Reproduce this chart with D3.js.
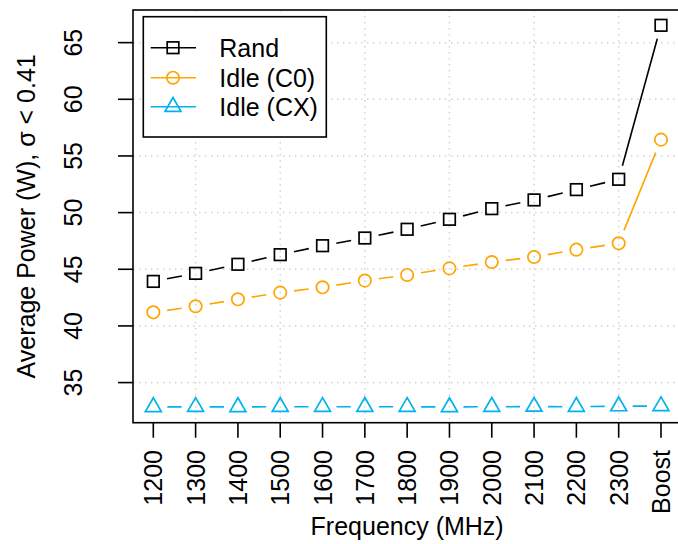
<!DOCTYPE html>
<html>
<head>
<meta charset="utf-8">
<script src="https://cdn.jsdelivr.net/npm/d3@7"></script>
<style>
  html, body { margin: 0; padding: 0; background: #fff; }
  svg { display: block; }
  text { font-family: "Liberation Sans", Arial, sans-serif; fill: #000; }
</style>
</head>
<body>
<svg id="chart" width="678" height="544"></svg>
<script>
// ---- data ----
const categories = ["1200","1300","1400","1500","1600","1700","1800","1900","2000","2100","2200","2300","Boost"];
const randValues = [43.93, 44.64, 45.44, 46.29, 47.08, 47.76, 48.53, 49.41, 50.35, 51.12, 52.03, 52.94, 66.53];
const idleC0Values = [41.20, 41.73, 42.35, 42.94, 43.41, 44.00, 44.50, 45.08, 45.64, 46.08, 46.73, 47.29, 56.44];
const idleCXValues = [32.85, 32.86, 32.85, 32.87, 32.86, 32.87, 32.86, 32.85, 32.87, 32.88, 32.87, 32.92, 32.93];
const yTicks = [35, 40, 45, 50, 55, 60, 65];
const xGridIdx = [2, 4, 6, 8, 10, 12];
const seriesNames = ["Rand", "Idle (C0)", "Idle (CX)"];

const series = [
  { name: seriesNames[0], values: randValues, color: "#000000", shape: "square" },
  { name: seriesNames[1], values: idleC0Values, color: "#FFA500", shape: "circle" },
  { name: seriesNames[2], values: idleCXValues, color: "#00B2EE", shape: "triangle" }
];

const FS = 25;
const svg = d3.select("#chart");
const L = 133, R = 681.3, T = 10, B = 422.7;

const x = d3.scaleLinear().domain([0.52, 13.48]).range([L, R]);
const y = d3.scaleLinear().domain([31.46, 67.88]).range([B, T]);

// grid
const grid = svg.append("g");
grid.selectAll("line.h").data(yTicks).enter().append("line")
  .attr("x1", L).attr("x2", R).attr("y1", d => y(d)).attr("y2", d => y(d))
  .attr("stroke", "#D3D3D3").attr("stroke-width", 1.5).attr("stroke-dasharray", "1.5,4.5");
grid.selectAll("line.v").data(xGridIdx).enter().append("line")
  .attr("y1", T).attr("y2", B).attr("x1", d => x(d)).attr("x2", d => x(d))
  .attr("stroke", "#D3D3D3").attr("stroke-width", 1.5).attr("stroke-dasharray", "1.5,4.5");

// symbol drawing
function drawSymbol(g, shape, cx, cy, color) {
  if (shape === "square") {
    g.append("rect").attr("x", cx - 5.8).attr("y", cy - 5.8).attr("width", 11.6).attr("height", 11.6)
      .attr("fill", "none").attr("stroke", color).attr("stroke-width", 1.7);
  } else if (shape === "circle") {
    g.append("circle").attr("cx", cx).attr("cy", cy).attr("r", 6.2)
      .attr("fill", "none").attr("stroke", color).attr("stroke-width", 1.7);
  } else {
    const r = 9.2;
    const pts = [[cx, cy - r], [cx + r * Math.sqrt(3) / 2, cy + r / 2], [cx - r * Math.sqrt(3) / 2, cy + r / 2]];
    g.append("polygon").attr("points", pts.map(p => p.join(",")).join(" "))
      .attr("fill", "none").attr("stroke", color).attr("stroke-width", 1.7);
  }
}

// series (type = "b": gapped lines + points)
const gap = 14;
series.forEach(s => {
  const g = svg.append("g");
  const pts = s.values.map((v, i) => [x(i + 1), y(v)]);
  for (let i = 0; i < pts.length - 1; i++) {
    const [x0, y0] = pts[i], [x1, y1] = pts[i + 1];
    const dx = x1 - x0, dy = y1 - y0, len = Math.hypot(dx, dy);
    if (len <= 2 * gap) continue;
    const ux = dx / len, uy = dy / len;
    g.append("line")
      .attr("x1", x0 + ux * gap).attr("y1", y0 + uy * gap)
      .attr("x2", x1 - ux * gap).attr("y2", y1 - uy * gap)
      .attr("stroke", s.color).attr("stroke-width", 1.6);
  }
  pts.forEach(p => drawSymbol(g, s.shape, p[0], p[1], s.color));
});

// box
svg.append("rect").attr("x", L).attr("y", T).attr("width", R - L).attr("height", B - T)
  .attr("fill", "none").attr("stroke", "#000").attr("stroke-width", 1.6);

// y axis ticks & labels
const yAx = svg.append("g");
yAx.selectAll("line").data(yTicks).enter().append("line")
  .attr("x1", L - 15).attr("x2", L).attr("y1", d => y(d)).attr("y2", d => y(d))
  .attr("stroke", "#000").attr("stroke-width", 1.6);
yAx.selectAll("text").data(yTicks).enter().append("text")
  .attr("transform", d => `translate(81.5,${y(d)}) rotate(-90)`)
  .attr("text-anchor", "middle").attr("font-size", FS).text(d => d);

// x axis ticks & labels
const xAx = svg.append("g");
xAx.selectAll("line").data(categories).enter().append("line")
  .attr("x1", (d, i) => x(i + 1)).attr("x2", (d, i) => x(i + 1)).attr("y1", B).attr("y2", B + 15)
  .attr("stroke", "#000").attr("stroke-width", 1.6);
xAx.selectAll("text").data(categories).enter().append("text")
  .attr("transform", (d, i) => `translate(${x(i + 1) + 9},450) rotate(-90)`)
  .attr("text-anchor", "end").attr("font-size", FS).text(d => d);

// axis titles
svg.append("text").attr("x", (L + R) / 2).attr("y", 535).attr("text-anchor", "middle")
  .attr("font-size", FS).text("Frequency (MHz)");
svg.append("text").attr("transform", `translate(35,${(T + B) / 2}) rotate(-90)`)
  .attr("text-anchor", "middle").attr("font-size", FS).text("Average Power (W), σ < 0.41");

// legend
const lg = svg.append("g");
lg.append("rect").attr("x", 143.3).attr("y", 16.7).attr("width", 183).attr("height", 120.3)
  .attr("fill", "#fff").attr("stroke", "#000").attr("stroke-width", 1.6);
const rowY = [47.7, 77.7, 106.7];
series.forEach((s, i) => {
  lg.append("line").attr("x1", 150.7).attr("x2", 196).attr("y1", rowY[i]).attr("y2", rowY[i])
    .attr("stroke", s.color).attr("stroke-width", 1.6);
  drawSymbol(lg, s.shape, 173, rowY[i], s.color);
  lg.append("text").attr("x", 219.3).attr("y", rowY[i] + 9).attr("font-size", FS).text(s.name);
});
</script>
</body>
</html>
